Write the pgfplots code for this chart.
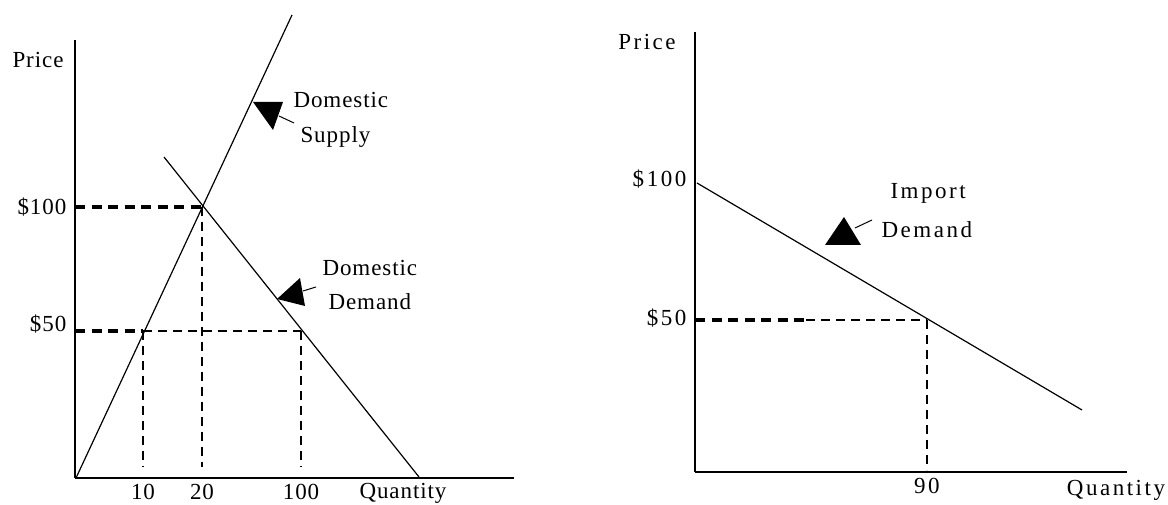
\documentclass[border=0pt]{standalone}
\usepackage{pgfplots}
\pgfplotsset{compat=1.18}
\usepackage{fontspec}
\setmainfont{Liberation Serif}
\newfontfamily\leftfam[LetterSpace=4]{Liberation Serif}
\newfontfamily\rightfam[LetterSpace=11]{Liberation Serif}
\newcommand{\leftfont}{\leftfam\fontsize{23}{25}\selectfont}
\newcommand{\rightfont}{\rightfam\fontsize{23}{25}\selectfont}
\begin{document}
\begin{tikzpicture}
\pgfplotsset{
  panel/.style={
    x=1pt, y=1pt, anchor=south west, enlargelimits=false, clip=false,
    axis x line=bottom, axis y line=left,
    axis line style={-, line width=2pt},
    every outer x axis line/.append style={-},
    every outer y axis line/.append style={-},
    every inner x axis line/.append style={-},
    every inner y axis line/.append style={-},
    xtick style={draw=none}, ytick style={draw=none},
    yticklabel style={xshift=-3pt},
    xticklabel style={yshift=-1pt},
  },
  curve/.style={black, line width=1.2pt},
  thickdash/.style={black, line width=3.2pt, dash pattern=on 10pt off 6.5pt},
  thindash/.style={black, line width=1.4pt, dash pattern=on 9pt off 6pt},
}
% ---------------- Left panel: domestic market ----------------
\begin{axis}[panel, at={(75pt,27pt)}, font=\leftfont,
  tick label style={font=\leftfont},
  xmin=75, xmax=514, ymin=27, ymax=465,
  xtick={143,202,301}, xticklabels={10,20,100},
  ytick={174,298}, yticklabels={\raisebox{16pt}{\$50},\$100}]
  % domestic supply
  \addplot[curve] coordinates {(76,27) (292,490)};
  % domestic demand
  \addplot[curve] coordinates {(164,348) (419,28)};
  % guide lines
  \addplot[thickdash] coordinates {(75,298) (202,298)};
  \addplot[thickdash] coordinates {(75,174) (143,174)};
  \addplot[thindash] coordinates {(143,174) (301,174)};
  \addplot[thindash] coordinates {(143,174) (143,38)};
  \addplot[thindash] coordinates {(202,298) (202,38)};
  \addplot[thindash] coordinates {(301,174) (301,38)};
  % labels
  \node[font=\leftfont] at (axis cs:38,445) {Price};
  \node[font=\leftfont] at (axis cs:403,12) {Quantity};
  \node[font=\leftfont, anchor=west] at (axis cs:290,405) {Domestic};
  \node[font=\leftfont, anchor=west] at (axis cs:297,368) {Supply};
  \node[font=\leftfont, anchor=west] at (axis cs:319,237) {Domestic};
  \node[font=\leftfont, anchor=west] at (axis cs:325,203) {Demand};
  % pointer arrows
  \fill (axis cs:253,403) -- (axis cs:283,403) -- (axis cs:273,375) -- cycle;
  \draw[line width=1pt] (axis cs:279,389) -- (axis cs:294,382);
  \fill (axis cs:277,206) -- (axis cs:300,227) -- (axis cs:305,199) -- cycle;
  \draw[line width=1pt] (axis cs:303,214) -- (axis cs:316,218);
\end{axis}
% ---------------- Right panel: import demand ----------------
\begin{axis}[panel, at={(695pt,33pt)}, font=\rightfont,
  tick label style={font=\rightfont},
  xmin=695, xmax=1127, ymin=33, ymax=473,
  xtick={927}, xticklabels={90},
  ytick={185,322}, yticklabels={\raisebox{6pt}{\$50},\raisebox{10pt}{\$100}}]
  % import demand
  \addplot[curve] coordinates {(697,322) (1082,95)};
  % guide lines
  \addplot[thickdash] coordinates {(695,185) (806,185)};
  \addplot[thindash] coordinates {(806,185) (927,185)};
  \addplot[thindash] coordinates {(927,185) (927,35)};
  % labels
  \node[font=\rightfont] at (axis cs:647,463) {Price};
  \node[font=\rightfont] at (axis cs:1116,15) {Quantity};
  \node[font=\rightfont, anchor=west] at (axis cs:887,312) {Import};
  \node[font=\rightfont, anchor=west] at (axis cs:878,275) {Demand};
  % pointer arrow
  \fill (axis cs:825,260) -- (axis cs:861,260) -- (axis cs:844,288) -- cycle;
  \draw[line width=1pt] (axis cs:855,277) -- (axis cs:872,285);
\end{axis}
\pgfresetboundingbox
\path[use as bounding box] (0,0) rectangle (1168pt,505pt);
\end{tikzpicture}
\end{document}
